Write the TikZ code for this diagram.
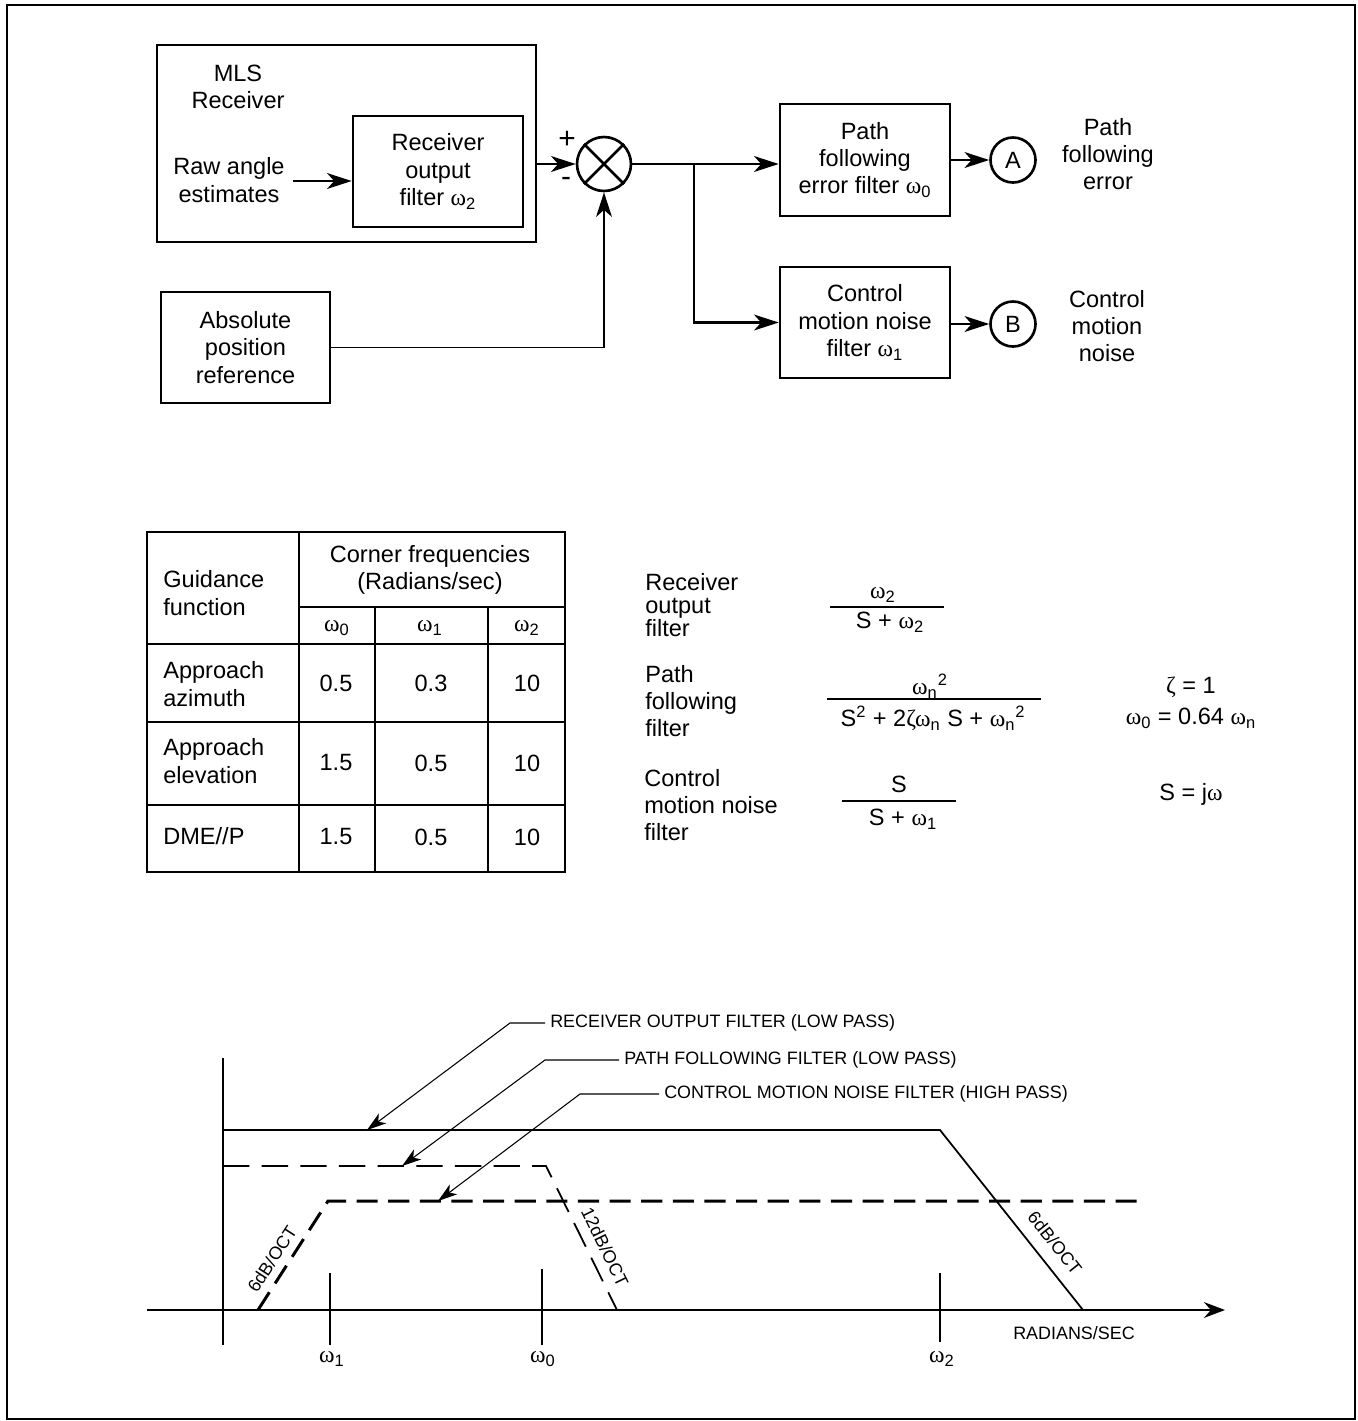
\documentclass[tikz,border=0pt]{standalone}
\usepackage{fontspec}
\setmainfont{Liberation Sans}
\newfontfamily\omfont{Liberation Serif}
\usetikzlibrary{arrows.meta,positioning}
\newcommand\om[1]{{\omfont ω}\textsubscript{#1}}
\newcommand\bigtxt{\fontsize{13.4}{15.5}\selectfont}
\newcommand\tighttxt{\fontsize{13.4}{13.2}\selectfont}
\newcommand\smalltxt{\fontsize{10.2}{12}\selectfont}
\newcommand\signtxt{\fontsize{17}{20}\selectfont}

\begin{document}
\begin{tikzpicture}[x=0.02cm,y=-0.02cm,
  every node/.style={font=\bigtxt,inner sep=0pt},
  blk/.style={draw,line width=1.5pt,align=center},
  ring/.style={draw,circle,line width=1.5pt},
  sig/.style={line width=1.5pt,-{Stealth[length=14pt,width=9pt,inset=4pt]}},
  grid line/.style={line width=.7pt},
  curve/.style={line width=1pt},
  leader/.style={line width=.6pt,-{Stealth[length=11pt,width=7pt,inset=3pt]}},
  notelbl/.style={font=\smalltxt,anchor=west,inner xsep=2.8pt}]
\useasboundingbox (0,0) rectangle (1357,1421);
\draw[line width=.8pt] (7,5) rectangle (1355,1419);

% receiver and reference
\node[blk,minimum width=7.58cm,minimum height=3.94cm] (mls) at (346.5,143.5) {};
\node[align=center] (mlstxt) at (238,87) {MLS\\Receiver};
\node[blk,minimum width=3.4cm,minimum height=2.22cm] (rof) at (438,171.5) {Receiver\\output\\filter \om{2}};
\node[align=center] (raw) at (229,180) {Raw angle\\estimates};
\coordinate (rawend) at (293,181);
\draw[sig] (rawend) -- (rawend -| rof.west);
\node[blk,minimum width=3.38cm,minimum height=2.22cm] (apr) at (245.5,347.5) {Absolute\\position\\reference};

% summing junction
\node[ring,minimum size=1.08cm] (sum) at (604,164) {};
\draw[line width=1.5pt] (sum.north west) -- (sum.south east) (sum.north east) -- (sum.south west);
\node[font=\signtxt] (plus) at (567,140) {+};
\node[font=\signtxt] (minus) at (566,182) {-};
\draw[sig] (sum.west -| mls.east) -- (sum.west);
\draw[sig,line width=1.1pt] (apr.east) -| (sum.south);

% filters and outputs
\node[blk,minimum width=3.4cm,minimum height=2.24cm] (pfe) at (865,160) {Path\\following\\error filter \om{0}};
\node[blk,minimum width=3.4cm,minimum height=2.22cm] (cmn) at (865,322.5) {Control\\motion noise\\filter \om{1}};
\coordinate (br) at (694,164);
\draw[sig] (sum.east) -- (sum.east -| pfe.west);
\draw[sig] (br) |- (cmn.west);
\node[ring,minimum size=0.9cm] (outA) at (1013,160) {A};
\node[ring,minimum size=0.9cm] (outB) at (1013,324) {B};
\draw[sig] (pfe.east) -- (outA.west);
\draw[sig] (cmn.east |- outB.west) -- (outB.west);
\node[align=center] (pfelbl) at (1108,154) {Path\\following\\error};
\node[align=center] (cmnlbl) at (1107,326) {Control\\motion\\noise};

% table
\draw[grid line] (147,532) rectangle (565,872);
\draw[grid line] (299,532) -- (299,872) (299,607) -- (565,607)
  (147,644) -- (565,644) (147,722) -- (565,722) (147,805) -- (565,805)
  (375,607) -- (375,872) (488,607) -- (488,872);
\node[anchor=west,align=left] (gf) at (163,593) {Guidance\\function};
\node[align=center] (cf) at (430,570) {Corner frequencies\\(Radians/sec)};
\node (h0) at (337,628) {\om{0}};
\node (h1) at (430,628) {\om{1}};
\node (h2) at (527,628) {\om{2}};
\node[anchor=west,align=left] (az) at (163,684) {Approach\\azimuth};
\node[anchor=west,align=left] (el) at (163,761) {Approach\\elevation};
\node[anchor=west] (dme) at (163,836) {DME//P};
\foreach \yy/\va/\vb/\vc [count=\r] in {683/0.5/0.3/10,763/1.5/0.5/10,837/1.5/0.5/10}{
  \node (a\r) at (336,\yy) {\va};
  \node (b\r) at (431,\yy) {\vb};
  \node (c\r) at (527,\yy) {\vc};
}

% transfer functions
\node[anchor=west,align=left,font=\tighttxt] (rofl) at (645,605) {Receiver\\output\\filter};
\node (f1n) at (883,595) {\om{2}};
\draw[grid line] (830,607) -- (944,607);
\node (f1d) at (890,622) {S + \om{2}};
\node[anchor=west,align=left] (pffl) at (645,701) {Path\\following\\filter};
\node (f2n) at (930,686) {{\omfont ω}\textsubscript{n}\textsuperscript{2}};
\draw[grid line] (827,699) -- (1041,699);
\node (f2d) at (933,718) {S\textsuperscript{2} + 2{\omfont ζω}\textsubscript{n} S + {\omfont ω}\textsubscript{n}\textsuperscript{2}};
\node (zeta) at (1191,687) {{\omfont ζ} = 1};
\node (wn) at (1191,718) {\om{0} = 0.64 {\omfont ω}\textsubscript{n}};
\node[anchor=west,align=left] (cmnl) at (644,805) {Control\\motion noise\\filter};
\node (f3n) at (899,784) {S};
\draw[grid line] (842,801) -- (956,801);
\node (f3d) at (903,819) {S + \om{1}};
\node (sjw) at (1191,794) {S = j{\omfont ω}};

% frequency response sketch
\draw[line width=1.1pt] (223,1058) -- (223,1345);
\draw[line width=1.1pt,-{Stealth[length=12pt,width=9pt,inset=4pt]}] (147,1310) -- (1225,1310);
\draw[line width=1.1pt] (330,1273) -- (330,1345) (542,1269) -- (542,1345) (940,1273) -- (940,1342);
\node (w1) at (332,1359) {\om{1}};
\node (w0) at (543,1359) {\om{0}};
\node (w2) at (942,1359) {\om{2}};
\node[font=\smalltxt] (rad) at (1074,1333) {RADIANS/SEC};
\draw[curve] (223,1130) -- (940,1130) -- (1083,1310);
\draw[curve,dash pattern=on 15pt off 7pt] (223,1166) -- (546,1166) -- (617,1310);
\draw[line width=1.7pt,dash pattern=on 12pt off 6pt] (258,1310) -- (328,1201) -- (1143,1201);
\node[font=\smalltxt,rotate=57] (s1) at (272,1259) {6dB/OCT};
\node[font=\smalltxt,rotate=-64] (s2) at (605,1247) {12dB/OCT};
\node[font=\smalltxt,rotate=-51.5] (s3) at (1055,1243) {6dB/OCT};
\node[notelbl] (c1) at (545,1023) {RECEIVER OUTPUT FILTER (LOW PASS)};
\node[notelbl] (c2) at (619,1060) {PATH FOLLOWING FILTER (LOW PASS)};
\node[notelbl] (c3) at (659,1094) {CONTROL MOTION NOISE FILTER (HIGH PASS)};
\draw[leader] (c1.west) -- ++(-35,0) -- (367,1130);
\draw[leader] (c2.west) -- ++(-74,0) -- (402,1166);
\draw[leader] (c3.west) -- ++(-79,0) -- (438,1201);
\end{tikzpicture}
\end{document}
